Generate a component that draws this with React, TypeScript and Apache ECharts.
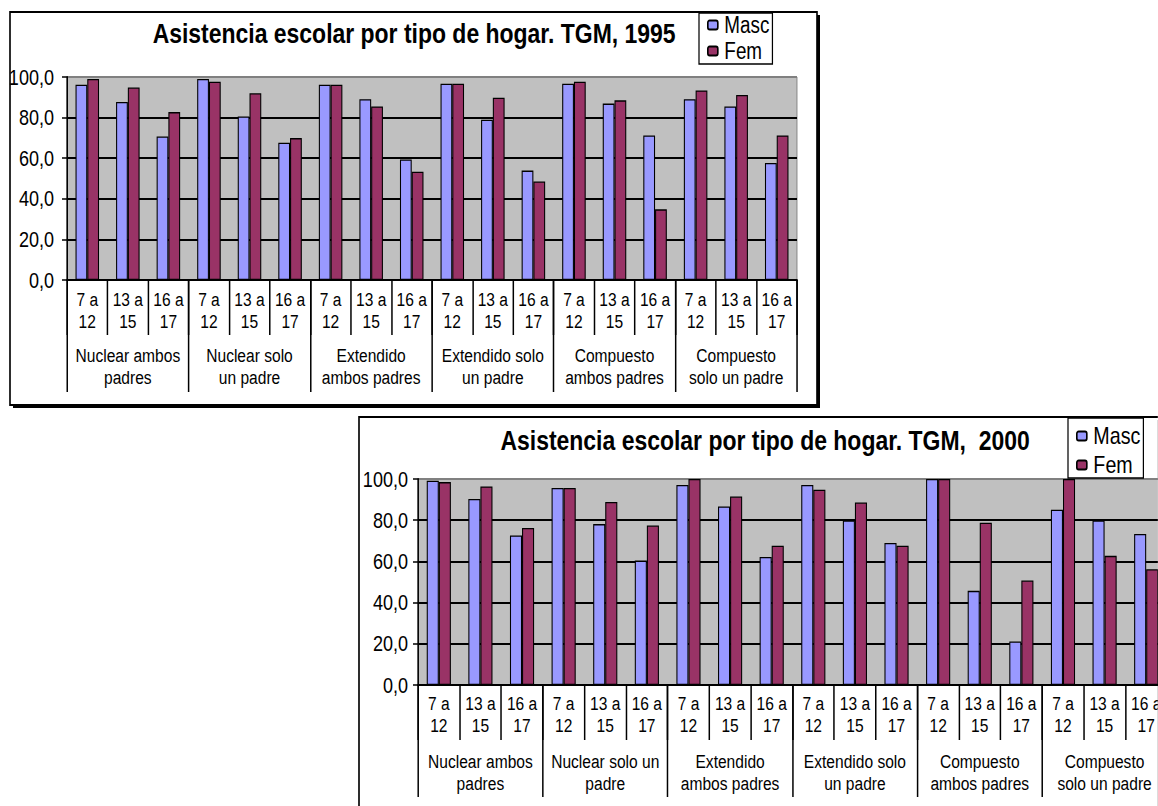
import React, { useEffect, useRef } from "react";
import * as echarts from "echarts";

const ageLabels = ["7 a\n12", "13 a\n15", "16 a\n17"];
const groups1995 = [
  "Nuclear ambos\npadres",
  "Nuclear solo\nun padre",
  "Extendido\nambos padres",
  "Extendido solo\nun padre",
  "Compuesto\nambos padres",
  "Compuesto\nsolo un padre",
];
const groups2000 = [
  "Nuclear ambos\npadres",
  "Nuclear solo un\npadre",
  "Extendido\nambos padres",
  "Extendido solo\nun padre",
  "Compuesto\nambos padres",
  "Compuesto\nsolo un padre",
];
const masc1995 = [96.2, 87.7, 70.7, 99.0, 80.6, 67.6, 96.2, 89.1, 59.4, 96.7, 79.0, 53.9, 96.7, 86.9, 71.2, 89.1, 85.5, 57.6];
const fem1995 = [99.0, 94.8, 82.7, 97.7, 92.0, 69.9, 96.2, 85.5, 53.3, 96.7, 89.8, 48.5, 97.7, 88.5, 34.8, 93.4, 91.1, 71.2];
const masc2000 = [99.2, 90.3, 72.6, 95.6, 78.1, 60.4, 97.1, 86.7, 62.1, 97.1, 79.9, 68.9, 100, 45.7, 21.1, 85.1, 79.9, 73.3];
const fem2000 = [98.5, 96.4, 76.2, 95.6, 88.8, 77.4, 100, 91.5, 67.6, 94.8, 88.6, 67.6, 100, 78.8, 50.7, 100, 62.7, 56.2];
const title1995 = "Asistencia escolar por tipo de hogar. TGM, 1995";
const title2000 = "Asistencia escolar por tipo de hogar. TGM,  2000";
const seriesNames = ["Masc", "Fem"];
const yTicks = [0, 20, 40, 60, 80, 100];

// Arial Narrow look: Liberation Sans drawn in a horizontally compressed canvas
const SX = 0.82;
const X = (px: number) => px / SX;
const W = 1158;
const H = 806;

const FONT = '"Liberation Sans", Arial, sans-serif';
const MASC = "#9999FF";
const FEM = "#993366";
const VLINE = 1.5 / SX;

const categories = groups1995.flatMap(() => ageLabels);

function xAxes(gridIndex: number, groups: string[], innerTick: number, outerTick: number, innerMargin: number, outerMargin: number) {
  return [
    {
      gridIndex,
      type: "category",
      data: categories,
      position: "bottom",
      axisLine: { show: true, lineStyle: { color: "#000", width: 2 } },
      axisTick: { show: true, interval: 0, length: innerTick, lineStyle: { color: "#000", width: VLINE } },
      axisLabel: { interval: 0, color: "#000", fontFamily: FONT, fontSize: 19, lineHeight: 22, margin: innerMargin },
      splitLine: { show: false },
    },
    {
      gridIndex,
      type: "category",
      data: groups,
      position: "bottom",
      axisLine: { show: false },
      axisTick: { show: true, interval: 0, length: outerTick, lineStyle: { color: "#000", width: VLINE } },
      axisLabel: { interval: 0, color: "#000", fontFamily: FONT, fontSize: 19, lineHeight: 22, margin: outerMargin },
      splitLine: { show: false },
    },
  ];
}

function yAxis(gridIndex: number, margin: number) {
  return {
    gridIndex,
    type: "value",
    min: yTicks[0],
    max: yTicks[yTicks.length - 1],
    interval: 20,
    axisLine: { show: true, lineStyle: { color: "#000", width: VLINE } },
    axisTick: { show: true, length: X(5), lineStyle: { color: "#000", width: 1.5 } },
    axisLabel: {
      color: "#000",
      fontFamily: FONT,
      fontSize: 22,
      margin: X(margin),
      formatter: (v: number) => v.toFixed(1).replace(".", ","),
    },
    splitLine: {
      show: true,
      lineStyle: { color: ["#000", "#000", "#000", "#000", "#000", "#808080"], width: 2 },
    },
  };
}

function barSeries(name: string, data: number[], color: string, idx: number) {
  return {
    name,
    type: "bar",
    xAxisIndex: idx * 2,
    yAxisIndex: idx,
    data,
    barGap: "0%",
    barCategoryGap: "42%",
    itemStyle: { color, borderColor: "#000", borderWidth: 1.3 },
  };
}

function legend(left: number, top: number, padding: number[], itemGap: number, fontSize: number, lineHeight: number) {
  return {
    data: seriesNames,
    orient: "vertical",
    left: X(left),
    top,
    padding,
    itemGap,
    itemWidth: X(10),
    itemHeight: 9,
    backgroundColor: "#fff",
    borderColor: "#000",
    borderWidth: 1.5,
    textStyle: { fontFamily: FONT, fontSize, lineHeight, color: "#000", padding: [0, 0, 0, 3] },
  };
}

export default function App() {
  const ref = useRef<HTMLDivElement>(null);
  useEffect(() => {
    if (!ref.current) return;
    const chart = echarts.init(ref.current, undefined, { renderer: "svg" });
    const option: any = {
      animation: false,
      textStyle: { fontFamily: FONT },
      title: [
        {
          text: title1995,
          left: X(410),
          top: 14,
          textAlign: "center",
          textStyle: { fontFamily: FONT, fontWeight: "bold", fontSize: 28, color: "#000" },
        },
        {
          text: title2000,
          left: X(761),
          top: 421,
          textAlign: "center",
          textStyle: { fontFamily: FONT, fontWeight: "bold", fontSize: 28, color: "#000" },
        },
      ],
      legend: [
        legend(699, 13, [0, X(3), 1, X(8)], 2, 23, 24),
        legend(1068, 418, [5, X(3), 0, X(8)], 3, 24, 26),
      ],
      graphic: {
        elements: [
          { type: "rect", z: -20, shape: { x: X(13), y: 15, width: X(807), height: 393 }, style: { fill: "#000" } },
          { type: "rect", z: -19, shape: { x: X(10), y: 12, width: X(807), height: 393 }, style: { fill: "#fff", stroke: "#000", lineWidth: 2 } },
          { type: "rect", z: -20, shape: { x: X(362), y: 420, width: X(900), height: 500 }, style: { fill: "#000" } },
          { type: "rect", z: -19, shape: { x: X(359), y: 417, width: X(900), height: 500 }, style: { fill: "#fff", stroke: "#000", lineWidth: 2 } },
        ],
      },
      grid: [
        { left: X(67), top: 77, width: X(730), height: 203, outerBoundsMode: "none", show: true, backgroundColor: "#C0C0C0", borderColor: "#808080", borderWidth: 1 },
        { left: X(418), top: 479, width: X(749), height: 206, outerBoundsMode: "none", show: true, backgroundColor: "#C0C0C0", borderColor: "#808080", borderWidth: 1 },
      ],
      xAxis: [...xAxes(0, groups1995, 55, 112, 8, 64), ...xAxes(1, groups2000, 55, 112, 7, 65)],
      yAxis: [yAxis(0, 13), yAxis(1, 10)],
      series: [
        barSeries(seriesNames[0], masc1995, MASC, 0),
        barSeries(seriesNames[1], fem1995, FEM, 0),
        barSeries(seriesNames[0], masc2000, MASC, 1),
        barSeries(seriesNames[1], fem2000, FEM, 1),
      ],
    };
    chart.setOption(option);
    return () => chart.dispose();
  }, []);
  return (
    <div style={{ position: "absolute", left: 0, top: 0, width: W, height: H, overflow: "hidden", background: "#fff" }}>
      <div
        ref={ref}
        style={{ width: X(W), height: H, transform: `scaleX(${SX})`, transformOrigin: "0 0" }}
      />
    </div>
  );
}
